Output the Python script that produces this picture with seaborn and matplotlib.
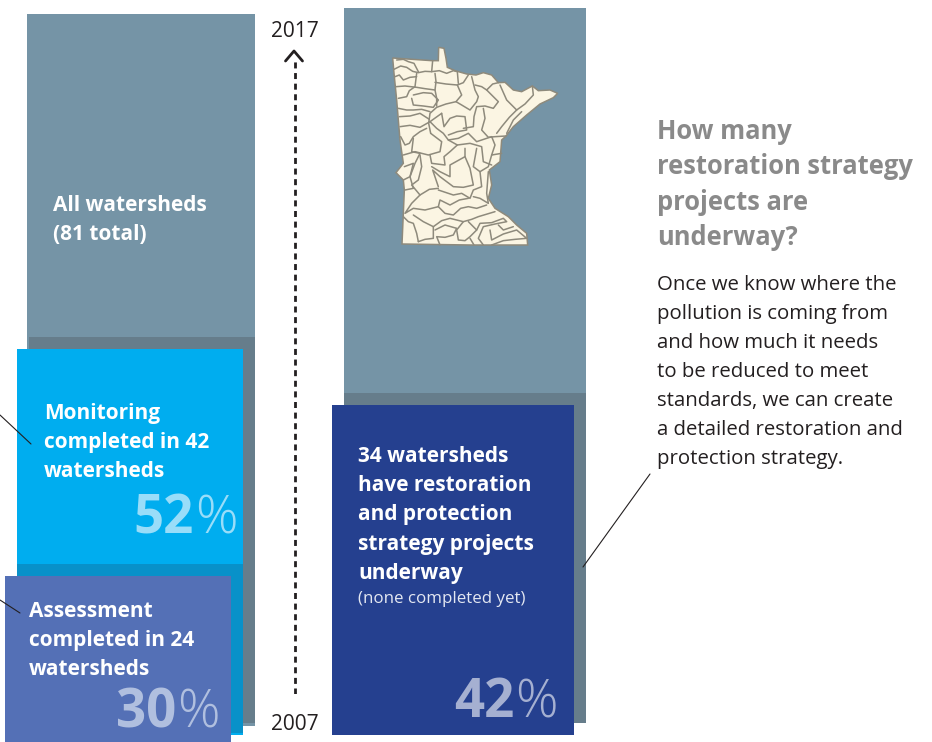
import matplotlib
matplotlib.use("Agg")
import matplotlib.pyplot as plt
import seaborn as sns

W, H = 932, 742
sns.set_style("white")
plt.rcParams["font.family"] = ["Open Sans", "DejaVu Sans"]

# bar lengths, tall bar on the left = 100
all_left = 100
monitoring_bar = 54.2
assessment_bar = 23.7
all_right = 100.4
strategy_bar = 46.3
years = [2007, 2017]

# state outline and watershed boundaries
state_x = [68, 186, 205, 206, 222, 228, 232, 255, 290, 318, 340, 365, 385, 405, 430, 455, 487, 505, 540, 563, 550,
           510, 470, 430, 408, 395, 390, 358, 365, 355, 375, 415, 440, 470, 473, 300, 96, 103, 100, 78, 100, 90, 80, 72]
state_y = [84, 92, 92, 52, 55, 85, 112, 122, 132, 135, 128, 135, 158, 157, 180, 185, 168, 182, 180, 190, 203,
           222, 255, 290, 318, 330, 395, 420, 465, 505, 535, 560, 585, 610, 645, 645, 642, 480, 450, 428, 400, 330, 210, 130]
watersheds = [
    [(72, 118), (92, 108), (110, 112), (128, 124), (145, 128), (165, 124), (185, 125), (188, 92)],
    [(80, 90), (100, 88), (115, 95), (132, 100), (145, 125)],
    [(75, 140), (88, 135), (100, 150), (120, 142), (140, 140)],
    [(78, 170), (105, 168), (140, 172), (165, 176), (195, 180)],
    [(140, 130), (135, 170), (118, 182), (110, 200), (85, 205)],
    [(185, 125), (208, 122), (230, 130), (250, 122), (262, 125), (265, 160)],
    [(195, 130), (198, 155), (195, 180), (200, 205), (200, 228)],
    [(195, 157), (228, 162), (262, 165), (280, 158), (295, 135)],
    [(262, 165), (275, 195), (258, 215), (228, 222), (200, 232), (180, 250), (176, 280), (182, 310)],
    [(130, 195), (160, 188), (185, 190), (205, 210), (190, 232), (160, 228), (130, 225), (125, 205)],
    [(85, 235), (110, 240), (130, 240), (155, 238), (180, 245)],
    [(88, 260), (120, 258), (150, 250), (178, 268)],
    [(90, 290), (120, 286), (150, 292), (180, 275)],
    [(92, 320), (105, 345), (118, 340), (130, 320), (150, 305), (170, 295)],
    [(305, 140), (310, 160), (315, 180), (325, 200), (320, 215), (300, 240), (275, 225), (258, 215)],
    [(315, 165), (335, 170), (350, 180), (368, 162), (385, 158)],
    [(350, 180), (385, 215), (370, 235), (345, 228), (320, 230), (312, 260), (310, 290), (280, 295)],
    [(390, 165), (410, 210), (440, 240), (418, 262), (395, 290), (380, 310)],
    [(440, 240), (465, 222), (490, 195), (487, 168)],
    [(455, 245), (430, 270), (410, 310)],
    [(340, 235), (345, 265), (335, 300), (355, 322), (375, 320), (408, 318)],
    [(215, 250), (222, 290), (240, 265), (260, 258), (285, 260), (290, 300), (262, 305), (235, 315)],
    [(215, 250), (180, 275), (200, 295), (220, 310), (235, 330), (265, 325), (295, 310), (320, 335), (365, 320)],
    [(182, 310), (215, 335), (210, 365), (175, 375), (135, 365), (100, 375)],
    [(130, 325), (125, 365), (150, 370), (135, 400), (120, 440), (100, 450)],
    [(235, 330), (262, 345), (240, 365), (222, 380), (225, 405), (185, 400), (180, 375)],
    [(262, 345), (300, 340), (335, 350), (340, 395), (365, 405)],
    [(285, 355), (285, 380), (240, 405), (240, 440), (210, 425), (185, 410)],
    [(320, 355), (310, 410), (330, 425), (355, 410), (365, 375), (395, 370)],
    [(365, 320), (375, 345), (365, 375)],
    [(285, 380), (300, 415), (305, 440), (310, 465), (280, 472), (250, 470), (210, 440), (188, 420), (205, 470)],
    [(330, 425), (335, 470), (310, 480), (300, 505), (275, 490), (250, 495), (205, 480)],
    [(355, 425), (350, 490), (355, 520), (330, 505), (310, 500)],
    [(150, 375), (155, 410), (145, 450), (125, 465), (150, 495), (178, 478), (205, 475)],
    [(103, 410), (130, 400), (120, 440), (130, 475), (105, 480)],
    [(150, 495), (125, 520), (105, 550), (130, 535), (165, 540), (205, 530), (210, 510), (240, 525), (268, 510), (295, 505)],
    [(205, 530), (225, 550), (250, 555), (272, 535), (295, 530), (320, 535), (350, 525)],
    [(100, 560), (115, 575), (130, 580), (140, 610), (145, 635)],
    [(130, 555), (160, 575), (190, 590), (215, 572), (240, 565), (280, 575), (305, 568), (325, 560), (375, 545)],
    [(190, 590), (190, 625), (165, 628), (145, 635)],
    [(195, 600), (225, 585), (260, 595), (250, 615), (225, 622), (200, 620), (210, 645)],
    [(280, 575), (260, 600), (265, 630), (285, 632), (300, 620), (320, 600), (295, 575)],
    [(320, 600), (330, 580), (365, 578), (400, 565), (410, 575), (375, 582), (340, 590), (325, 625), (340, 645)],
    [(360, 600), (365, 630), (400, 612), (440, 600), (470, 625), (435, 628), (400, 632), (365, 645)],
    [(300, 625), (312, 645)],
    [(385, 585), (400, 600), (430, 590)],
]

fig = plt.figure(figsize=(W / 100, H / 100), dpi=100)
fig.patch.set_facecolor("white")
PX = 7.12


def card(x, top, width, value, color):
    h = value * PX
    ax = fig.add_axes([x / W, 1 - (top + h) / H, width / W, h / H])
    sns.barplot(x=["bar"], y=[value], color=color, saturation=1, width=1, linewidth=0, ax=ax)
    ax.set_xlim(-0.5, 0.5)
    ax.set_ylim(0, value)
    ax.axis("off")


card(27, 14, 228, all_left, "#7594A6")
card(29, 337, 226, monitoring_bar, "#667D8B")
card(17, 349, 226, monitoring_bar, "#00ADEF")
card(17, 564, 226, assessment_bar, "#0891C9")
card(5, 576, 226, assessment_bar, "#5470B6")
card(344, 8, 242, all_right, "#7594A6")
card(344, 393, 242, strategy_bar, "#667D8B")
card(332, 405, 242, strategy_bar, "#25408F")

# map
mp = fig.add_axes([370 / W, 1 - 260 / H, 210 / W, 230 / H])
mp.patch.set_alpha(0)
mp.fill(state_x, state_y, facecolor="#FBF5E3", edgecolor="#8E8A7C", lw=1.1)
for line in watersheds:
    sns.lineplot(x=[p[0] for p in line], y=[p[1] for p in line], color="#8E8A7C", lw=1.1,
                 sort=False, estimator=None, ax=mp)
mp.set_xlim(0, 630)
mp.set_ylim(690, 0)
mp.axis("off")

# timeline
tl = fig.add_axes([280 / W, 1 - 694 / H, 30 / W, 634 / H])
tl.patch.set_alpha(0)
sns.lineplot(x=[0, 0], y=years, color="#231F20", lw=2, sort=False, estimator=None, ax=tl)
tl.lines[0].set_dashes((2.16, 1.66))
tl.set_xlim(-1, 1)
tl.set_ylim(years[0], years[1])
tl.axis("off")

ov = fig.add_axes([0, 0, 1, 1])
ov.patch.set_alpha(0)
ov.set_xlim(0, W)
ov.set_ylim(H, 0)
ov.axis("off")

ov.plot([285.5, 294, 302.5], [61, 51, 61], color="#231F20", lw=2)
for xs, ys in [([0, 31], [415, 444]), ([0, 20], [600, 613]), ([650, 583], [474, 567])]:
    ov.plot(xs, ys, color="#231F20", lw=0.8)


def lines(x, y, step, rows, **kw):
    for i, row in enumerate(rows):
        ov.text(x, y + i * step, row, va="baseline", **kw)


def pct(x, y, digits, color):
    ov.text(x - 2, y, digits, ha="right", va="baseline", fontsize=38, fontweight="bold", color=color)
    ov.text(x - 1, y, "%", ha="left", va="baseline", fontsize=38, fontweight="light", color=color)


bold = dict(fontsize=15, fontweight="bold", color="white")
lines(53, 211, 29.3, ["All watersheds", "(81 total)"], **bold)
lines(44, 419, 29, ["Monitoring", "completed in 42", "watersheds"], **bold)
lines(29, 617, 28.8, ["Assessment", "completed in 24", "watersheds"], **bold)
lines(358, 462, 29.2, ["34 watersheds", "have restoration", "and protection", "strategy projects", "underway"], **bold)
ov.text(358, 603, "(none completed yet)", va="baseline", fontsize=12.2, color="#E4E8F2")
pct(196, 533, "52", "#99DDF9")
pct(178, 728, "30", "#B0BFDF")
pct(516, 717, "42", "#A5B0D1")

ov.text(295, 37, "2017", ha="center", va="baseline", fontsize=15, color="#231F20")
ov.text(295, 730, "2007", ha="center", va="baseline", fontsize=15, color="#231F20")

lines(657, 139, 35.3, ["How many", "restoration strategy", "projects are", "underway?"],
      fontsize=18.4, fontweight="bold", color="#8A8A8A")
lines(657, 290, 29, ["Once we know where the", "pollution is coming from", "and how much it needs",
                     "to be reduced to meet", "standards, we can create",
                     "a detailed restoration and", "protection strategy."],
      fontsize=14.7, color="#231F20")

fig.savefig("out.png", dpi=100)
